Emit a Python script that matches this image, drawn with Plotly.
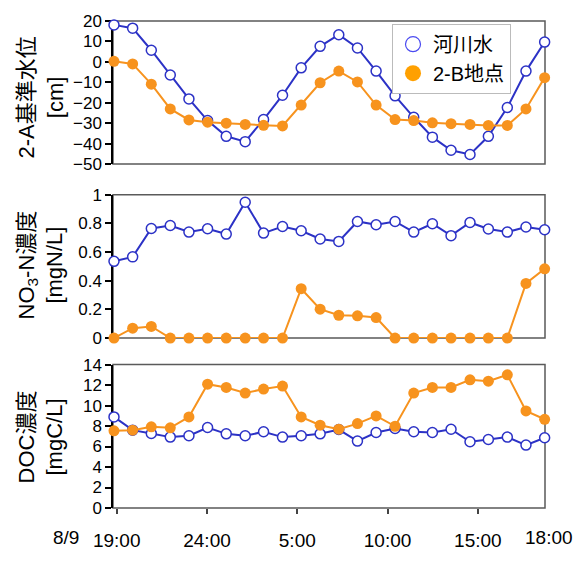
import plotly.graph_objects as go
from plotly.subplots import make_subplots

# ---- data ----
sample_times = ["8/9 18:51", "8/9 19:53", "8/9 20:55", "8/9 21:58", "8/9 23:00",
                "8/10 00:02", "8/10 01:04", "8/10 02:07", "8/10 03:08", "8/10 04:11",
                "8/10 05:13", "8/10 06:16", "8/10 07:18", "8/10 08:20", "8/10 09:22",
                "8/10 10:25", "8/10 11:27", "8/10 12:29", "8/10 13:31", "8/10 14:34",
                "8/10 15:35", "8/10 16:38", "8/10 17:40", "8/10 18:42"]

level_river = [18.1, 16.5, 5.7, -6.4, -18.1, -28.7, -36.4, -39.0, -28.2, -16.3,
               -2.9, 7.6, 13.3, 6.8, -4.5, -16.6, -27.1, -36.8, -43.2, -45.3,
               -36.4, -22.3, -4.5, 9.7]
level_2b = [0.3, -1.0, -10.9, -23.0, -28.4, -29.5, -30.0, -30.6, -31.0, -31.3,
            -21.1, -10.2, -4.5, -9.8, -21.1, -28.2, -28.7, -29.8, -30.2, -30.6,
            -31.1, -31.1, -23.0, -7.7]
no3_river = [0.535, 0.566, 0.764, 0.785, 0.739, 0.762, 0.725, 0.947, 0.732, 0.778,
             0.748, 0.691, 0.674, 0.813, 0.79, 0.813, 0.739, 0.797, 0.714, 0.806,
             0.76, 0.739, 0.774, 0.755]
no3_2b = [0, 0.069, 0.081, 0, 0, 0, 0, 0, 0, 0,
          0.344, 0.201, 0.159, 0.155, 0.143, 0, 0, 0, 0, 0,
          0, 0, 0.381, 0.483]
doc_river = [8.89, 7.6, 7.27, 6.92, 7.05, 7.86, 7.24, 7.05, 7.44, 6.92,
             7.05, 7.24, 7.66, 6.53, 7.37, 7.76, 7.44, 7.37, 7.69, 6.47,
             6.69, 6.92, 6.14, 6.86]
doc_2b = [7.53, 7.6, 7.92, 7.83, 8.89, 12.09, 11.77, 11.22, 11.61, 11.9,
          8.89, 8.08, 7.69, 8.24, 8.99, 7.98, 11.22, 11.77, 11.77, 12.51,
          12.38, 13.0, 9.48, 8.66]

series_names = ["河川水", "2-B地点"]
x_tick_hours = [0, 5, 10, 15, 20]          # hours after 8/9 19:00
x_tick_text = ["19:00", "24:00", "5:00", "10:00", "15:00"]
x_end_label = "18:00"
date_label = "8/9"
y_titles = ["2-A基準水位<br>[cm]", "NO<sub>3</sub>-N濃度<br>[mgN/L]", "DOC濃度<br>[mgC/L]"]


def to_hours(s):
    d, t = s.split(" ")
    day = int(d.split("/")[1])
    hh, mm = t.split(":")
    return (day - 9) * 24 + int(hh) + int(mm) / 60 - 19


x = [to_hours(s) for s in sample_times]

BLUE = "#2c32c6"
ORANGE = "#f7931e"
FONT = "Liberation Sans, Arial, Noto Sans CJK JP, sans-serif"

fig = make_subplots(rows=3, cols=1, shared_xaxes=False)

panels = [(level_river, level_2b), (no3_river, no3_2b), (doc_river, doc_2b)]
for i, (riv, b2) in enumerate(panels, start=1):
    fig.add_trace(go.Scatter(x=x, y=riv, mode="lines+markers", showlegend=False,
                             cliponaxis=False,
                             line=dict(color=BLUE, width=2),
                             marker=dict(size=10, color="white",
                                         line=dict(color=BLUE, width=1.5))),
                  row=i, col=1)
    fig.add_trace(go.Scatter(x=x, y=b2, mode="lines+markers", showlegend=False,
                             cliponaxis=False,
                             line=dict(color=ORANGE, width=2),
                             marker=dict(size=11, color=ORANGE,
                                         line=dict(color=ORANGE, width=0))),
                  row=i, col=1)

# legend-only traces
fig.add_trace(go.Scatter(x=[None], y=[None], mode="markers", name=series_names[0],
                         marker=dict(size=15, color="white",
                                     line=dict(color="#4b4bf0", width=1.2))),
              row=1, col=1)
fig.add_trace(go.Scatter(x=[None], y=[None], mode="markers", name=series_names[1],
                         marker=dict(size=16, color="#ffa000",
                                     line=dict(width=0))),
              row=1, col=1)

W, H = 581, 563
L, R, T, B = 113, 36, 20, 53
ph = H - T - B
pw = W - L - R

# pixel positions (from top) of each panel
panel_px = [(20, 164), (194.7, 339), (365.7, 510)]
domains = [[(510 - b) / ph, (510 - t) / ph] for t, b in panel_px]
title_centers = [97, 266, 439]

xrange = [-0.205, 23.72]
yranges = [[-50, 20], [0, 1], [0, 14]]
ydticks = [10, 0.2, 2]

for i in range(3):
    xa = "xaxis" if i == 0 else f"xaxis{i+1}"
    ya = "yaxis" if i == 0 else f"yaxis{i+1}"
    fig.layout[ya].update(domain=domains[i], range=yranges[i], dtick=ydticks[i],
                          tick0=0, showgrid=False, zeroline=False,
                          showline=True, linecolor="black", linewidth=1.5,
                          ticks="outside", ticklen=6, tickwidth=1.5, tickcolor="black",
                          tickfont=dict(size=17, color="black", family=FONT),
                          layer="below traces")
    fig.layout[xa].update(range=xrange, showgrid=False, zeroline=False,
                          showline=False, showticklabels=(i == 2),
                          ticks="outside" if i == 2 else "", ticklen=5,
                          tickwidth=1.5, tickcolor="#444",
                          tickvals=x_tick_hours, ticktext=x_tick_text,
                          tickfont=dict(size=19, color="black", family=FONT),
                          ticklabelstandoff=10)
    xr = "x" if i == 0 else f"x{i+1}"
    yr = "y" if i == 0 else f"y{i+1}"
    fig.add_shape(type="rect", xref=f"{xr} domain", yref=f"{yr} domain",
                  x0=0, x1=1, y0=0, y1=1, layer="below",
                  line=dict(color="#5a5a5a", width=1.5))
    fig.add_annotation(text=y_titles[i], textangle=-90, xref="paper", yref="paper",
                       x=(41 - L) / pw, y=(510 - title_centers[i]) / ph,
                       xanchor="center", yanchor="middle", showarrow=False,
                       font=dict(size=22, color="black", family=FONT))

fig.add_annotation(text=x_end_label, xref="paper", yref="paper",
                   x=(549 - L) / pw, y=(510 - 540) / ph,
                   xanchor="center", yanchor="middle", showarrow=False,
                   font=dict(size=19, color="black", family=FONT))
fig.add_annotation(text=date_label, xref="paper", yref="paper",
                   x=(66 - L) / pw, y=(510 - 540) / ph,
                   xanchor="center", yanchor="middle", showarrow=False,
                   font=dict(size=19, color="black", family=FONT))

fig.update_layout(
    width=W, height=H, autosize=False,
    margin=dict(l=L, r=R, t=T, b=B),
    paper_bgcolor="white", plot_bgcolor="white",
    font=dict(family=FONT, color="black"),
    legend=dict(x=(392 - L) / pw, y=(510 - 22.7) / ph,
                xanchor="left", yanchor="top",
                bgcolor="white", bordercolor="#bbbbbb", borderwidth=1,
                font=dict(size=20, color="black", family=FONT),
                itemwidth=30, tracegroupgap=0),
)

fig.write_html("out.html")
